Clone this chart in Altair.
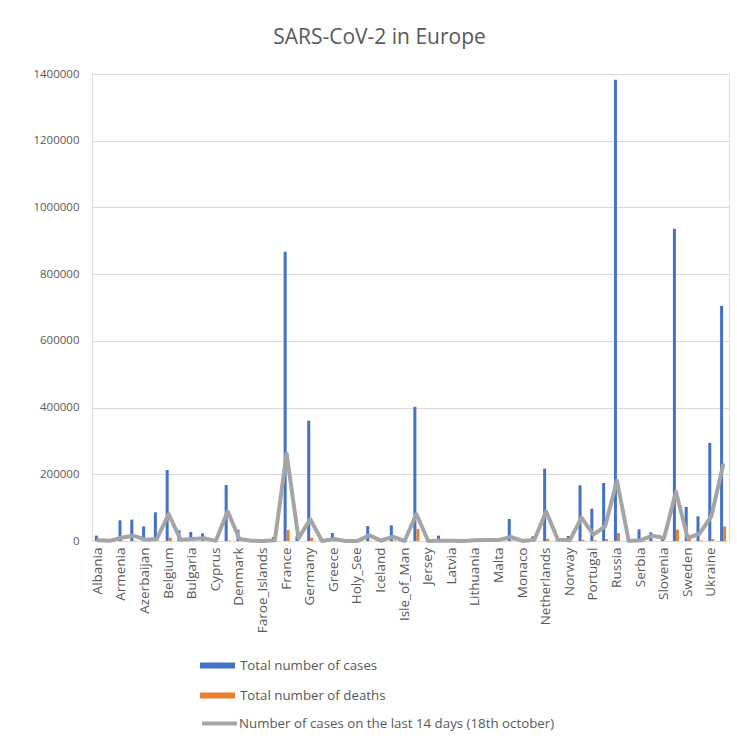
import altair as alt
import pandas as pd

FONT = "Open Sans"
TEXT_COLOR = "#595959"

countries = [
    "Albania", "Andorra", "Armenia", "Austria", "Azerbaijan", "Belarus", "Belgium",
    "Bosnia_and_Herzegovina", "Bulgaria", "Croatia", "Cyprus", "Czechia", "Denmark",
    "Estonia", "Faroe_Islands", "Finland", "France", "Georgia", "Germany", "Gibraltar",
    "Greece", "Guernsey", "Holy_See", "Hungary", "Iceland", "Ireland", "Isle_of_Man",
    "Italy", "Jersey", "Kosovo", "Latvia", "Liechtenstein", "Lithuania", "Luxembourg",
    "Malta", "Moldova", "Monaco", "Montenegro", "Netherlands", "North_Macedonia",
    "Norway", "Poland", "Portugal", "Romania", "Russia", "San_Marino", "Serbia",
    "Slovakia", "Slovenia", "Spain", "Sweden", "Switzerland", "Ukraine", "United_Kingdom",
]

total_cases = [
    16000, 3600, 62000, 64000, 44000, 86000, 213000,
    32000, 27000, 23000, 2000, 168000, 34000,
    3800, 500, 12000, 867000, 14000, 361000, 600,
    24000, 300, 30, 45000, 4000, 47000, 350,
    402000, 500, 16000, 2600, 300, 6500, 9000,
    4000, 66000, 300, 14000, 217000, 1500,
    15000, 167000, 97000, 174000, 1383000, 800, 35000,
    26000, 10000, 936000, 102000, 74000, 294000, 705000,
]

total_deaths = [
    450, 60, 1100, 880, 610, 900, 10300,
    950, 950, 340, 25, 1380, 680,
    70, 0, 350, 33300, 110, 9800, 0,
    550, 13, 0, 1100, 10, 1850, 24,
    36500, 32, 600, 40, 1, 100, 130,
    40, 1570, 2, 250, 6700, 760,
    280, 3600, 2150, 5800, 23800, 42, 750,
    90, 170, 33800, 5900, 2100, 5600, 43600,
]

cases_last_14_days = [
    2000, 500, 10000, 16000, 4000, 6000, 81000,
    4000, 6000, 8000, 500, 89000, 6000,
    1000, 100, 2000, 262000, 8000, 65000, 100,
    6000, 0, 0, 17000, 1000, 13000, 0,
    81000, 100, 1000, 800, 100, 2000, 3000,
    3000, 12000, 100, 4000, 88000, 4000,
    2000, 70000, 19000, 44000, 181000, 200, 2000,
    16000, 9000, 148000, 9000, 22000, 74000, 227000,
]

y_ticks = [0, 200000, 400000, 600000, 800000, 1000000, 1200000, 1400000]

S_CASES = "Total number of cases"
S_DEATHS = "Total number of deaths"
S_LINE = "Number of cases on the last 14 days (18th october)"

bars_df = pd.DataFrame(
    {
        "country": countries * 2,
        "series": [S_CASES] * len(countries) + [S_DEATHS] * len(countries),
        "value": total_cases + total_deaths,
    }
)
line_df = pd.DataFrame(
    {"country": countries, "series": [S_LINE] * len(countries), "value": cases_last_14_days}
)

x_scale = alt.Scale(domain=countries, paddingInner=0.49, paddingOuter=0.245)
y_scale = alt.Scale(domain=[0, 1400000], nice=False, zero=True)

x_axis = alt.Axis(
    values=countries[::2],
    labelAngle=270,
    labelAlign="right",
    labelBaseline="middle",
    labelFont=FONT,
    labelFontSize=13.5,
    labelColor=TEXT_COLOR,
    labelPadding=6,
    labelOverlap=False,
    ticks=False,
    domain=True,
    domainColor="#d9d9d9",
    domainWidth=1,
    grid=False,
    title=None,
)
y_axis = alt.Axis(
    values=y_ticks,
    format="d",
    labelFont=FONT,
    labelFontSize=11.5,
    labelColor=TEXT_COLOR,
    labelPadding=13,
    ticks=False,
    domain=False,
    grid=True,
    gridColor="#d9d9d9",
    gridWidth=1,
    title=None,
)

bar_symbol = "M-1,-0.17L1,-0.17L1,0.17L-1,0.17Z"

bars = alt.Chart(bars_df).mark_bar(stroke=None).encode(
    x=alt.X("country:N", scale=x_scale, axis=x_axis),
    xOffset=alt.XOffset(
        "series:N",
        scale=alt.Scale(domain=[S_CASES, S_DEATHS], paddingInner=0, paddingOuter=0),
    ),
    y=alt.Y("value:Q", scale=y_scale, axis=y_axis),
    fill=alt.Fill(
        "series:N",
        scale=alt.Scale(domain=[S_CASES, S_DEATHS], range=["#4472c4", "#ed7d31"]),
        legend=alt.Legend(
            title=None,
            orient="none",
            legendX=108,
            legendY=574,
            symbolType=bar_symbol,
            symbolSize=1225,
            symbolStrokeWidth=0,
            symbolOpacity=1,
            labelFont=FONT,
            labelFontSize=13.3,
            labelColor=TEXT_COLOR,
            labelLimit=0,
            labelOffset=5,
            rowPadding=6,
            padding=0,
        ),
    ),
)

line = alt.Chart(line_df).mark_line(strokeWidth=4, strokeJoin="round", strokeCap="round").encode(
    x=alt.X("country:N", scale=x_scale, axis=x_axis),
    y=alt.Y("value:Q", scale=y_scale, axis=y_axis),
    stroke=alt.Stroke(
        "series:N",
        scale=alt.Scale(domain=[S_LINE], range=["#a5a5a5"]),
        legend=alt.Legend(
            title=None,
            orient="none",
            legendX=108,
            legendY=630,
            symbolType="stroke",
            symbolSize=1225,
            symbolStrokeWidth=4,
            labelFont=FONT,
            labelFontSize=13.3,
            labelColor=TEXT_COLOR,
            labelLimit=0,
            labelOffset=0,
            padding=0,
        ),
    ),
)

chart = (
    alt.layer(bars, line)
    .properties(
        width=637,
        height=467,
        padding={"left": 92, "top": 74, "right": 8, "bottom": 202},
        autosize=alt.AutoSizeParams(type="none"),
        title=alt.TitleParams(
            "SARS-CoV-2 in Europe",
            font=FONT,
            fontSize=21,
            fontWeight="normal",
            color=TEXT_COLOR,
            anchor="middle",
            dx=-31,
            offset=20,
        ),
    )
    .configure_view(stroke=None)
    .configure(background="white")
)

chart.save("out.html", embed_options={"renderer": "svg", "actions": False})
